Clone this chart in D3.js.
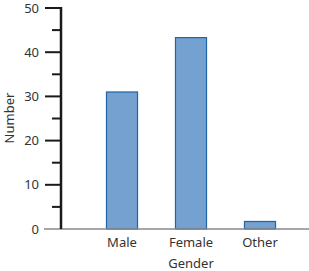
<!DOCTYPE html>
<html>
<head>
<meta charset="utf-8">
<script src="https://cdn.jsdelivr.net/npm/d3@7"></script>
<style>
  body { margin: 0; background: #fff; }
  text { font-family: "Noto Sans", sans-serif; fill: #333; }
</style>
</head>
<body>
<div class="content"></div>
<script>
var categories = ['Male', 'Female', 'Other'];
var counts = [31, 43.3, 1.7];
var yTicks = [0, 10, 20, 30, 40, 50];
var yMinorTicks = [5, 15, 25, 35, 45];

var chart = {
    width: 309,
    height: 271,
    axisX: 61,
    baseY: 229,
    topY: 8,
    fill: '#75a1d1',
    stroke: '#2064a8',
    fontSize: 13
};

var svg = d3.select('.content').append('svg')
    .attr('width', chart.width)
    .attr('height', chart.height);

var x = d3.scaleBand()
    .domain(categories)
    .range([87.5, 294.5])
    .paddingInner(0.55)
    .paddingOuter(0.275);

var y = d3.scaleLinear()
    .domain([0, 50])
    .range([chart.baseY, chart.topY]);

// bars
svg.append('g').selectAll('rect')
    .data(categories)
    .enter().append('rect')
    .attr('x', function(d) { return x(d); })
    .attr('y', function(d, i) { return y(counts[i]); })
    .attr('width', x.bandwidth())
    .attr('height', function(d, i) { return chart.baseY - y(counts[i]); })
    .style('fill', chart.fill)
    .style('stroke', chart.stroke)
    .style('stroke-width', 1.2);

// baseline
svg.append('line')
    .attr('x1', 44).attr('x2', 309)
    .attr('y1', chart.baseY).attr('y2', chart.baseY)
    .style('stroke', '#888')
    .style('stroke-width', 1.5);

// y axis
var yAxis = svg.append('g');
yAxis.append('line')
    .attr('x1', chart.axisX).attr('x2', chart.axisX)
    .attr('y1', chart.topY - 1).attr('y2', chart.baseY)
    .style('stroke', '#1a1a1a')
    .style('stroke-width', 2.5);

yAxis.selectAll('.major')
    .data(yTicks.filter(function(d) { return d > 0; }))
    .enter().append('line')
    .attr('x1', 45).attr('x2', chart.axisX)
    .attr('y1', function(d) { return y(d); })
    .attr('y2', function(d) { return y(d); })
    .style('stroke', '#1a1a1a')
    .style('stroke-width', 2);

yAxis.selectAll('.minor')
    .data(yMinorTicks)
    .enter().append('line')
    .attr('x1', 52).attr('x2', chart.axisX)
    .attr('y1', function(d) { return y(d); })
    .attr('y2', function(d) { return y(d); })
    .style('stroke', '#1a1a1a')
    .style('stroke-width', 2);

yAxis.selectAll('text')
    .data(yTicks)
    .enter().append('text')
    .attr('x', 39)
    .attr('y', function(d) { return y(d); })
    .attr('dy', '0.35em')
    .attr('text-anchor', 'end')
    .style('font-size', chart.fontSize + 'px')
    .text(function(d) { return d; });

// category labels
svg.append('g').selectAll('text')
    .data(categories)
    .enter().append('text')
    .attr('x', function(d) { return x(d) + x.bandwidth() / 2; })
    .attr('y', 247)
    .attr('text-anchor', 'middle')
    .style('font-size', chart.fontSize + 'px')
    .text(function(d) { return d; });

// axis titles
svg.append('text')
    .attr('x', 191)
    .attr('y', 268)
    .attr('text-anchor', 'middle')
    .style('font-size', chart.fontSize + 'px')
    .text('Gender');

svg.append('text')
    .attr('transform', 'translate(14,118) rotate(-90)')
    .attr('text-anchor', 'middle')
    .style('font-size', chart.fontSize + 'px')
    .text('Number');
</script>
</body>
</html>
